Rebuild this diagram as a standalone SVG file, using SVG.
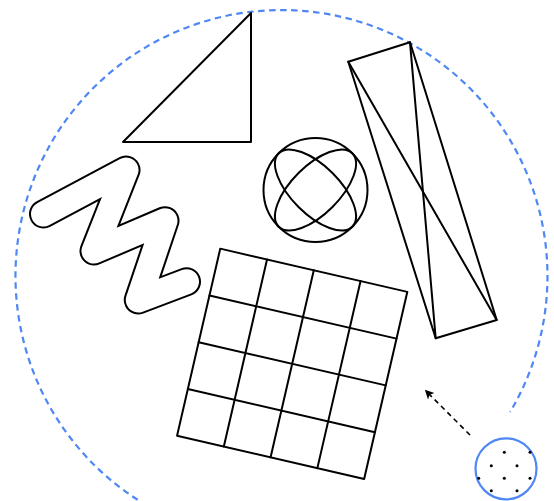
<svg xmlns="http://www.w3.org/2000/svg" width="554" height="501" viewBox="0 0 554 501">
<defs>
<style>
.ln{fill:none;stroke:#000;stroke-width:2;stroke-linejoin:round;stroke-linecap:round}
.blue{fill:none;stroke:#4f87f5;stroke-width:2.2}
.dot{fill:#000}
</style>
<marker id="ah" viewBox="0 0 10 10" refX="9" refY="5" markerWidth="10" markerHeight="9" orient="auto-start-reverse" markerUnits="userSpaceOnUse">
<path d="M0,0 L10,5 L0,10 L2.5,5 z" fill="#000"/>
</marker>
</defs>
<rect width="554" height="501" fill="#fff"/>
<g id="boundary">
<path class="blue" stroke-dasharray="6.5 4.5" d="M156.6,510.9 A266,266 0 1 1 510.1,412"/>
</g>
<g id="triangle">
<polygon class="ln" points="123,142 251,13 251,142"/>
</g>
<g id="zigzag">
<polyline points="43.5,214 126,170 94,251 165,220.7 138.3,300 186.5,281.7" fill="none" stroke="#000" stroke-width="29" stroke-linejoin="round" stroke-linecap="round"/>
<polyline points="43.5,214 126,170 94,251 165,220.7 138.3,300 186.5,281.7" fill="none" stroke="#fff" stroke-width="25" stroke-linejoin="round" stroke-linecap="round"/>
</g>
<g id="sphere">
<circle class="ln" cx="315.5" cy="190" r="52"/>
<ellipse class="ln" cx="315.5" cy="190" rx="52" ry="24" transform="rotate(45 315.5 190)"/>
<ellipse class="ln" cx="315.5" cy="190" rx="52" ry="24" transform="rotate(-45 315.5 190)"/>
</g>
<g id="crossed-rect">
<polygon class="ln" points="348.3,61.7 410,42.3 496.7,320 435.7,338.3"/>
<line class="ln" x1="348.3" y1="61.7" x2="496.7" y2="320"/>
<line class="ln" x1="410" y1="42.3" x2="435.7" y2="338.3"/>
</g>
<g id="grid" transform="translate(292.2,363.8) rotate(13)">
<rect class="ln" x="-96" y="-96" width="192" height="192" stroke-linejoin="miter"/>
<path class="ln" d="M-48,-96V96M0,-96V96M48,-96V96M-96,-48H96M-96,0H96M-96,48H96"/>
</g>
<g id="source">
<circle class="blue" cx="506" cy="468.8" r="30.5"/>
<circle class="dot" cx="504.3" cy="452.3" r="1.5"/>
<circle class="dot" cx="530" cy="452.3" r="1.5"/>
<circle class="dot" cx="491.3" cy="465.7" r="1.5"/>
<circle class="dot" cx="517" cy="465.7" r="1.5"/>
<circle class="dot" cx="478.7" cy="478.3" r="1.5"/>
<circle class="dot" cx="504.3" cy="478.3" r="1.5"/>
<circle class="dot" cx="530" cy="478.3" r="1.5"/>
<circle class="dot" cx="491.3" cy="490.7" r="1.5"/>
<circle class="dot" cx="517" cy="490.7" r="1.5"/>
</g>
<g id="connectors">
<line x1="470" y1="435" x2="425.5" y2="390.5" stroke="#000" stroke-width="1.6" stroke-dasharray="5 4" marker-end="url(#ah)"/>
</g>
</svg>
